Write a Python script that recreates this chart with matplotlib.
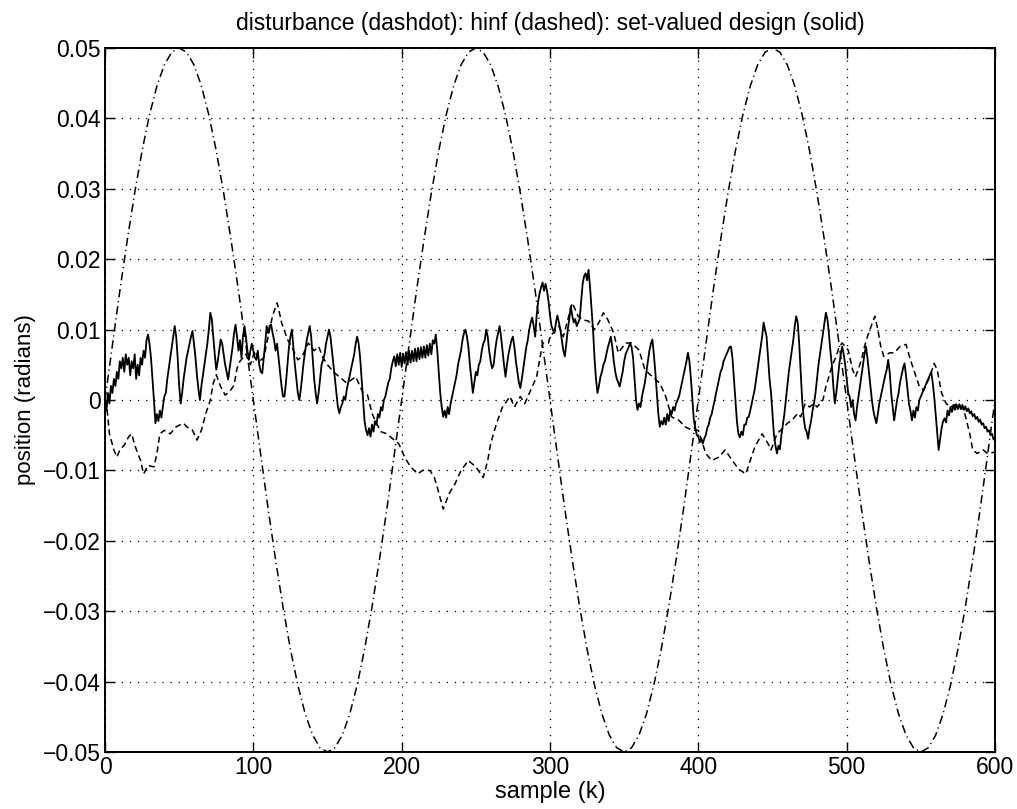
import numpy as np
import matplotlib
matplotlib.use("Agg")
import matplotlib.pyplot as plt

plt.rcParams['font.family'] = ['Liberation Sans', 'DejaVu Sans']

# ---------------- data (values in units of 1e-3 rad) ----------------
# disturbance, sampled every 5 samples (k = 0, 5, ..., 600)
dist_k = list(range(0, 601, 5))
dist_v = [
    0, 7.8, 15.5, 22.7, 29.4, 35.4, 40.5, 44.6, 47.6, 49.4,
    50, 49.4, 47.6, 44.6, 40.5, 35.4, 29.4, 22.7, 15.5, 7.8,
    0, -7.8, -15.5, -22.7, -29.4, -35.4, -40.5, -44.6, -47.6, -49.4,
    -50, -49.4, -47.6, -44.6, -40.5, -35.4, -29.4, -22.7, -15.5, -7.8,
    0, 7.8, 15.5, 22.7, 29.4, 35.4, 40.5, 44.6, 47.6, 49.4,
    50, 49.4, 47.6, 44.6, 40.5, 35.4, 29.4, 22.7, 15.5, 7.8,
    0, -7.8, -15.5, -22.7, -29.4, -35.4, -40.5, -44.6, -47.6, -49.4,
    -50, -49.4, -47.6, -44.6, -40.5, -35.4, -29.4, -22.7, -15.5, -7.8,
    0, 7.8, 15.5, 22.7, 29.4, 35.4, 40.5, 44.6, 47.6, 49.4,
    50, 49.4, 47.6, 44.6, 40.5, 35.4, 29.4, 22.7, 15.5, 7.8,
    0, -7.8, -15.5, -22.7, -29.4, -35.4, -40.5, -44.6, -47.6, -49.4,
    -50, -49.4, -47.6, -44.6, -40.5, -35.4, -29.4, -22.7, -15.5, -7.8,
    0,
]

# set-valued design (solid), one value per sample k = 0..600
setvalued_v = [
    0, -1.5, 1, -0.5, 2, 1, 3, 2, 4, 3,
    5.5, 4.5, 6, 4, 6.5, 5, 6, 3.5, 5.5, 4.5,
    6.5, 3, 5, 3.5, 6, 5, 7, 6, 8.5, 9.3,
    8, 6, 3, 0, -3.3, -2, -3, -1.5, -2.5, -1,
    0.5, 1, 3, 4.5, 6, 7.5, 9, 10.5, 9, 6,
    2, -0.5, 1, 3, 4.5, 6, 7, 8, 9, 9.8,
    8, 6, 3.5, 1.5, 0, 2, 3.5, 5, 6.5, 8,
    10, 12.4, 11.5, 9, 6.5, 4.3, 5.5, 7, 8.6, 8,
    6.5, 5, 4, 2.9, 4.5, 6, 7.5, 9.5, 10.7, 9,
    7, 8.5, 6, 9, 10.5, 9, 7, 5.7, 7, 8,
    7, 6, 5.7, 7, 5, 4, 3.8, 6, 8, 10.5,
    9.5, 10.5, 10.7, 9.5, 8.5, 7, 8, 6, 4, 2,
    0.5, 0.5, 2.5, 5, 7.5, 9, 10, 7.5, 5, 3,
    1, 0, 1.5, 3.5, 5.5, 7, 8.5, 9.5, 10.5, 9,
    6, 3, 1, -0.5, 1, 3, 5, 5.7, 6.5, 8,
    9, 10, 9, 7, 5, 3, 1, -1, -1.9, -1,
    -0.5, 0.5, 0, 1.5, 2.5, 3.5, 4.5, 5.5, 6.5, 8,
    9, 8, 6, 3, 0, -3, -4.3, -5, -4, -5.2,
    -3.5, -4.5, -3, -3.5, -2, -2.5, -1, -1.5, 0, 0.5,
    1.5, 2.5, 3, 4.5, 5.5, 6.2, 4.8, 6.5, 5, 6.7,
    4.7, 6.6, 5.2, 6.8, 5, 7, 5.3, 7, 5.5, 7.3,
    5.5, 7.4, 5.8, 7.5, 6, 7.6, 6, 7.8, 6.3, 8,
    6.5, 8.5, 8, 9.3, 7, 4, 1, -1, -2.4, -1.5,
    -2.5, -1, -2, -0.5, 0.5, 1.5, 2.5, 3.5, 5, 6,
    7, 8.5, 9.5, 10, 9, 7.5, 5, 3, 1, 2.5,
    4, 3.5, 5, 5.5, 7, 8, 8.5, 10, 9, 7,
    5.5, 4.5, 5, 7, 8.5, 9.5, 10.5, 9, 7, 5,
    3.3, 5, 6.5, 7.5, 8.5, 9, 7.5, 5.5, 4, 2.5,
    1.7, 3, 4.5, 6, 7.5, 8.5, 10, 11, 11.7, 10.5,
    9, 12, 14, 15.2, 16, 16.7, 15.5, 16.5, 15.5, 14,
    12, 10.5, 10, 9.5, 11, 12, 11, 10, 8.5, 7,
    6.2, 8, 10, 11.5, 13.3, 12, 11, 11.5, 10.5, 11,
    11.5, 14, 16.5, 17.6, 18, 17, 18.5, 16, 13, 10,
    6, 3, 1, 2, 3.3, 4, 5, 5.5, 6.5, 7.5,
    8.2, 9, 7.5, 5.5, 4, 3, 2.5, 1.9, 3, 4,
    5.5, 6.5, 7, 7.5, 8.1, 7.5, 6, 3, 0, -1.4,
    -0.5, -1, 0.5, 1.5, 2.5, 4, 5.5, 7, 8, 8.6,
    6.5, 4, 1, -1.9, -3.8, -3, -3.5, -2.5, -3.5, -2,
    -3, -1.5, -2, -1, -1.5, -0.5, 0, 0.5, 1.5, 2.5,
    3.5, 4.5, 5.5, 6.7, 5.5, 3, 0, -2.9, -4, -5,
    -5.2, -6, -5.5, -6.2, -5.5, -5, -4, -3.5, -2.5, -2,
    -1, 0, 1, 2, 3, 4, 4.5, 5.5, 6, 6.5,
    7, 7.5, 7.6, 6, 3, 0, -3, -4.8, -5.3, -4.5,
    -5, -3.5, -3.5, -2.5, -2.4, -1.5, -0.5, 0.5, 1.5, 3,
    4.5, 6, 7.5, 9, 11, 10, 9, 6, 3, 1,
    -2, -5, -6.5, -7.6, -6.5, -7, -5, -3.5, -2, 0,
    2, 4, 5.5, 7, 8.5, 10.5, 11.9, 11, 8, 4,
    0, -2.5, -4, -4.5, -5.5, -4, -3, -1.5, -0.5, 1,
    3, 5, 6.5, 8, 9.5, 11, 12.4, 11.5, 9.5, 7,
    5, 2, -0.5, 1, 3, 5, 6.5, 7.6, 6.5, 5,
    3, 1, 0.5, -1, 0, -2, -2.9, -1, 0.5, 2,
    3.5, 5, 6.5, 7.6, 6, 4, 2, 0, -1.5, -2.5,
    -3.3, -2, -0.5, 0.5, 1.5, 2.5, 3.5, 4.3, 5.7, 4,
    1, -1, -2.9, -1.5, 0, 1, 2.5, 3.5, 4.5, 5.2,
    3.5, 1.5, -0.5, -1.5, -2.9, -1.5, -2.5, -1, -1.5, 0,
    0.5, 1, 1.5, 2, 2.5, 3, 3.5, 4, 2.5, 0.5,
    -2, -4.5, -7.1, -5.5, -4, -3, -2.6, -3.2, -1.5, -2.2,
    -1.0, -1.7, -0.7, -1.4, -0.6, -1.3, -0.6, -1.3, -0.7, -1.4,
    -0.9, -1.6, -1.2, -1.9, -1.6, -2.3, -2.0, -2.7, -2.4, -3.1,
    -2.8, -3.5, -3.3, -4.0, -3.8, -4.5, -4.3, -5.0, -4.8, -5.6,
    -5.5,
]

# hinf (dashed), sample index and value
hinf_k = [
    0, 1, 3, 6, 8, 10, 13, 16, 18, 20, 24, 26, 29, 33, 35, 37, 40, 44, 48, 53,
    55, 59, 62, 65, 68, 71, 73, 75, 78, 81, 84, 87, 89, 91, 95, 98, 101, 104, 107, 110,
    113, 116, 117, 119, 123, 126, 130, 133, 137, 141, 144, 147, 150, 154, 159, 163, 169, 174, 177, 180,
    183, 186, 190, 195, 198, 202, 206, 211, 214, 219, 222, 224, 228, 232, 236, 240, 245, 250, 255, 258,
    260, 264, 268, 273, 276, 280, 283, 287, 291, 295, 299, 300, 306, 309, 315, 319, 322, 326, 330, 333,
    336, 339, 343, 346, 351, 355, 360, 364, 369, 374, 378, 382, 387, 391, 396, 400, 405, 409, 414, 418,
    423, 427, 432, 435, 438, 443, 447, 449, 453, 458, 460, 463, 467, 469, 472, 475, 478, 480, 484, 486,
    488, 490, 493, 495, 497, 501, 504, 506, 510, 512, 514, 516, 519, 521, 523, 525, 529, 532, 536, 540,
    543, 546, 549, 552, 556, 559, 561, 564, 567, 570, 575, 579, 583, 585, 588, 592, 595, 600,
]
hinf_v = [
    0, -0.5, -4.8, -7.1, -8.1, -7.1, -6.4, -5.2, -4.8, -6.4, -8.6, -10.5, -9.3, -9.5, -7.6, -4.8, -4.3, -4.8, -3.8, -3.3,
    -3.8, -4.3, -5.7, -4.3, -1.9, 0, 2.4, 3.6, 1.9, 0.7, 1.2, 2.1, 4.5, 5.5, 6.5, 5, 7, 5.5, 6, 9,
    12, 13.8, 13, 11, 8.6, 7.5, 5.7, 6.2, 8.1, 7, 7.6, 6, 5, 4, 3.1, 2.4, 3.3, 1, 0.7, -1.9,
    -3.3, -4.5, -4.8, -5.7, -6.2, -8.1, -9.5, -10.5, -10, -10, -11, -12.4, -15.5, -13.3, -11.9, -10, -8.6, -9.5, -11, -8.6,
    -6.2, -3.3, -1, 0.5, -1, 0.5, -0.5, 1.4, 3.3, 8.1, 8.1, 9, 10.5, 9, 13.8, 11.9, 11.4, 11.2, 10, 11,
    12.4, 11.4, 9.5, 6.7, 8.1, 8.1, 7.1, 4.3, 3.3, 2.4, 0.5, -2.4, -2.9, -3.8, -4.3, -4.3, -7.6, -8.6, -8.1, -7.1,
    -8.6, -9.8, -10.5, -8.6, -6.7, -4.8, -6.2, -7.1, -4.8, -3.8, -3.3, -2.9, -1.9, -2.4, -0.5, -1, -0.5, -1, 0, 1.9,
    3.3, 4.8, 6.2, 7.6, 8.1, 7.1, 4.3, 3.3, 5.7, 7.6, 9, 10.2, 11.9, 10, 7.6, 6.2, 6.7, 6.7, 7.6, 7.9,
    5.7, 3.8, 1.9, 1.4, 3.3, 5.2, 4.3, 1, -0.5, -1, -0.5, -1.4, -4.8, -7.1, -7.6, -7.1, -7.6, -7.4,
]

x_ticks = [0, 100, 200, 300, 400, 500, 600]
y_ticks = [-0.05, -0.04, -0.03, -0.02, -0.01, 0, 0.01, 0.02, 0.03, 0.04, 0.05]
y_tick_labels = ['\u22120.05', '\u22120.04', '\u22120.03', '\u22120.02', '\u22120.01', '0',
                 '0.01', '0.02', '0.03', '0.04', '0.05']

title_text = 'disturbance (dashdot): hinf (dashed): set-valued design (solid)'
x_label = 'sample (k)'
y_label = 'position (radians)'

# ---------------- plotting ----------------
scale = 1e-3
fig = plt.figure(figsize=(10.17, 8.09), dpi=100)
ax = fig.add_axes([105 / 1017, 1 - 752 / 809, 890 / 1017, 704 / 809])

ax.plot(dist_k, np.array(dist_v) * scale, color='black', lw=1.1,
        linestyle=(0, (5.5, 2.5, 0.8, 2.5)))
ax.plot(hinf_k, np.array(hinf_v) * scale, color='black', lw=1.1,
        linestyle=(0, (4, 2.5)))
ax.plot(np.arange(len(setvalued_v)), np.array(setvalued_v) * scale,
        color='black', lw=1.3)

ax.set_xlim(0, 600)
ax.set_ylim(-0.05, 0.05)
ax.set_xticks(x_ticks)
ax.set_yticks(y_ticks)
ax.set_yticklabels(y_tick_labels)
ax.grid(True, color='black', linestyle=(0, (1, 5.5)), linewidth=0.9)
ax.tick_params(direction='in', length=7, width=1.0, top=True, right=True,
               labelsize=16.5, pad=3)
for s in ax.spines.values():
    s.set_linewidth(1.4)

ax.set_title(title_text, fontsize=16.5, pad=13)
ax.set_xlabel(x_label, fontsize=17, labelpad=1)
ax.set_ylabel(y_label, fontsize=16, labelpad=5)

fig.savefig('out.png', dpi=100)
